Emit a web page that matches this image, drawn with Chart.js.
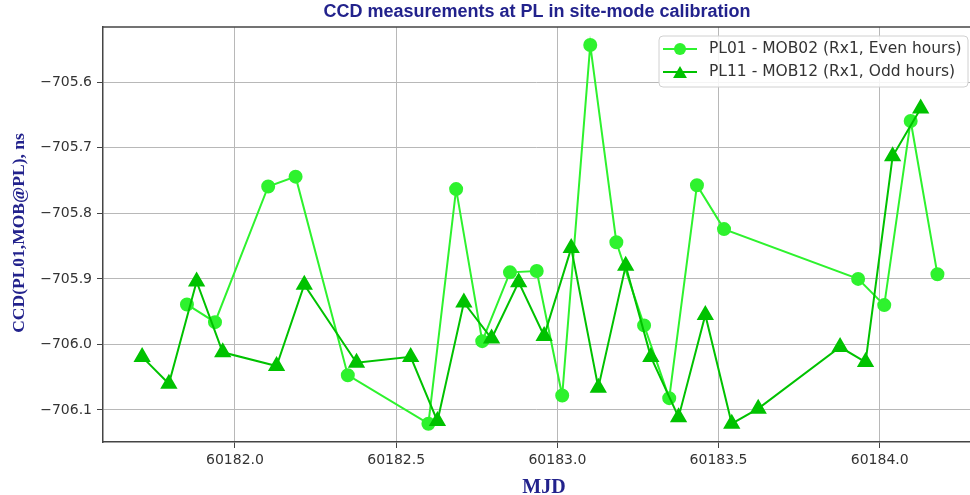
<!DOCTYPE html>
<html>
<head>
<meta charset="utf-8">
<script src="https://cdn.jsdelivr.net/npm/chart.js@4.4.0/dist/chart.umd.min.js"></script>
<style>
  html, body { margin: 0; padding: 0; background: #fff; }
  #wrap { width: 970px; height: 495px; }
</style>
</head>
<body>
<div id="wrap"><canvas id="ccdChart" width="970" height="495"></canvas></div>
<script>
// data
const mjdEven = [60181.851, 60181.938, 60182.103, 60182.188, 60182.350, 60182.600, 60182.686,
  60182.767, 60182.853, 60182.936, 60183.015, 60183.102, 60183.183, 60183.269, 60183.347,
  60183.433, 60183.517, 60183.933, 60184.014, 60184.096, 60184.179];
const ccdEven = [-705.939, -705.966, -705.759, -705.744, -706.047, -706.121, -705.763,
  -705.995, -705.890, -705.888, -706.078, -705.543, -705.844, -705.971, -706.082,
  -705.757, -705.824, -705.900, -705.940, -705.659, -705.893];

const mjdOdd = [60181.712, 60181.795, 60181.881, 60181.962, 60182.129, 60182.215, 60182.377,
  60182.545, 60182.628, 60182.710, 60182.796, 60182.880, 60182.959, 60183.043, 60183.127,
  60183.212, 60183.290, 60183.376, 60183.459, 60183.541, 60183.623, 60183.877, 60183.956,
  60184.040, 60184.127];
const ccdOdd = [-706.019, -706.060, -705.904, -706.012, -706.033, -705.909, -706.028,
  -706.019, -706.117, -705.936, -705.991, -705.905, -705.987, -705.853, -706.066,
  -705.880, -706.019, -706.111, -705.955, -706.121, -706.098, -706.004, -706.027,
  -705.713, -705.640];

const labelEven = "PL01 - MOB02 (Rx1, Even hours)";
const labelOdd = "PL11 - MOB12 (Rx1, Odd hours)";
const xTicks = [60182.0, 60182.5, 60183.0, 60183.5, 60184.0];
const yTicks = [-706.1, -706.0, -705.9, -705.8, -705.7, -705.6];

const colorEven = "#2ef22e";
const colorOdd = "#00c200";
const navy = "#22228c";

function toPoints(xs, ys) {
  return xs.map((x, i) => ({ x: x, y: ys[i] }));
}

// titles, frame and legend drawn on top
const extras = {
  id: "extras",
  afterDraw(chart) {
    const ctx = chart.ctx;
    const a = chart.chartArea;
    ctx.save();

    // top frame line
    ctx.strokeStyle = "#444";
    ctx.lineWidth = 1.5;
    ctx.beginPath();
    ctx.moveTo(a.left, a.top);
    ctx.lineTo(a.right, a.top);
    ctx.stroke();

    // title
    ctx.fillStyle = navy;
    ctx.font = "bold 18px 'Liberation Sans', Arial, sans-serif";
    ctx.textAlign = "center";
    ctx.textBaseline = "alphabetic";
    ctx.fillText("CCD measurements at PL in site-mode calibration", 537, 17);

    // x axis title
    ctx.font = "bold 20px 'Liberation Serif', 'Times New Roman', serif";
    ctx.fillText("MJD", 544, 493);

    // y axis title
    ctx.save();
    ctx.translate(24, 233);
    ctx.rotate(-Math.PI / 2);
    ctx.font = "bold 17.5px 'Liberation Serif', 'Times New Roman', serif";
    ctx.textBaseline = "alphabetic";
    ctx.fillText("CCD(PL01,MOB@PL), ns", 0, 0);
    ctx.restore();

    // legend
    const bx = 659, by = 36, bw = 309, bh = 51, r = 4;
    ctx.fillStyle = "rgba(255,255,255,0.85)";
    ctx.strokeStyle = "#d0d0d0";
    ctx.lineWidth = 1;
    ctx.beginPath();
    ctx.roundRect(bx, by, bw, bh, r);
    ctx.fill();
    ctx.stroke();

    const entries = [
      { label: labelEven, color: colorEven, style: "circle", rad: 6, y: 49 },
      { label: labelOdd, color: colorOdd, style: "triangle", rad: 8, y: 72 },
    ];
    entries.forEach((e) => {
      ctx.strokeStyle = e.color;
      ctx.lineWidth = 2;
      ctx.beginPath();
      ctx.moveTo(663, e.y);
      ctx.lineTo(697, e.y);
      ctx.stroke();
      ctx.fillStyle = e.color;
      Chart.helpers.drawPoint(ctx, { pointStyle: e.style, radius: e.rad, borderWidth: 0 }, 680, e.y + (e.style === "triangle" ? 2 : 0));
      ctx.fillStyle = "#333";
      ctx.font = "15.5px 'DejaVu Sans', sans-serif";
      ctx.textAlign = "left";
      ctx.textBaseline = "middle";
      ctx.fillText(e.label, 709, e.y);
    });

    ctx.restore();
  },
};

const ctx = document.getElementById("ccdChart").getContext("2d");

new Chart(ctx, {
  type: "line",
  data: {
    datasets: [
      {
        label: labelEven,
        data: toPoints(mjdEven, ccdEven),
        borderColor: colorEven,
        backgroundColor: colorEven,
        pointBackgroundColor: colorEven,
        pointBorderColor: colorEven,
        pointStyle: "circle",
        pointRadius: 6,
        borderWidth: 2,
        tension: 0,
        order: 1,
      },
      {
        label: labelOdd,
        data: toPoints(mjdOdd, ccdOdd),
        borderColor: colorOdd,
        backgroundColor: colorOdd,
        pointBackgroundColor: colorOdd,
        pointBorderColor: colorOdd,
        pointStyle: "triangle",
        pointRadius: 8,
        borderWidth: 2,
        tension: 0,
        order: 0,
      },
    ],
  },
  options: {
    responsive: false,
    animation: false,
    devicePixelRatio: 1,
    layout: { autoPadding: false, padding: { top: 27, right: 0, left: 0, bottom: 0 } },
    plugins: {
      legend: { display: false },
      title: { display: false },
      tooltip: { enabled: false },
    },
    scales: {
      x: {
        type: "linear",
        min: 60181.5906,
        max: 60184.28,
        afterFit: (s) => { s.height = 53; s.paddingLeft = 0; s.paddingRight = 0; },
        afterBuildTicks: (s) => { s.ticks = xTicks.map((v) => ({ value: v })); },
        grid: { color: "#b8b8b8", lineWidth: 1, tickColor: "#444", tickLength: 6 },
        border: { color: "#444", width: 1.5 },
        ticks: {
          color: "#333",
          font: { family: "'DejaVu Sans', sans-serif", size: 14 },
          padding: 4,
          maxRotation: 0,
          callback: (v) => v.toFixed(1),
        },
      },
      y: {
        type: "linear",
        min: -706.1489,
        max: -705.5156,
        afterFit: (s) => { s.width = 103; s.paddingTop = 0; s.paddingBottom = 0; },
        afterBuildTicks: (s) => { s.ticks = yTicks.map((v) => ({ value: v })); },
        grid: { color: "#b8b8b8", lineWidth: 1, tickColor: "#444", tickLength: 6 },
        border: { color: "#444", width: 1.5 },
        ticks: {
          color: "#333",
          font: { family: "'DejaVu Sans', sans-serif", size: 14 },
          padding: 5,
          callback: (v) => "\u2212" + Math.abs(v).toFixed(1),
        },
      },
    },
  },
  plugins: [extras],
});
</script>
</body>
</html>
